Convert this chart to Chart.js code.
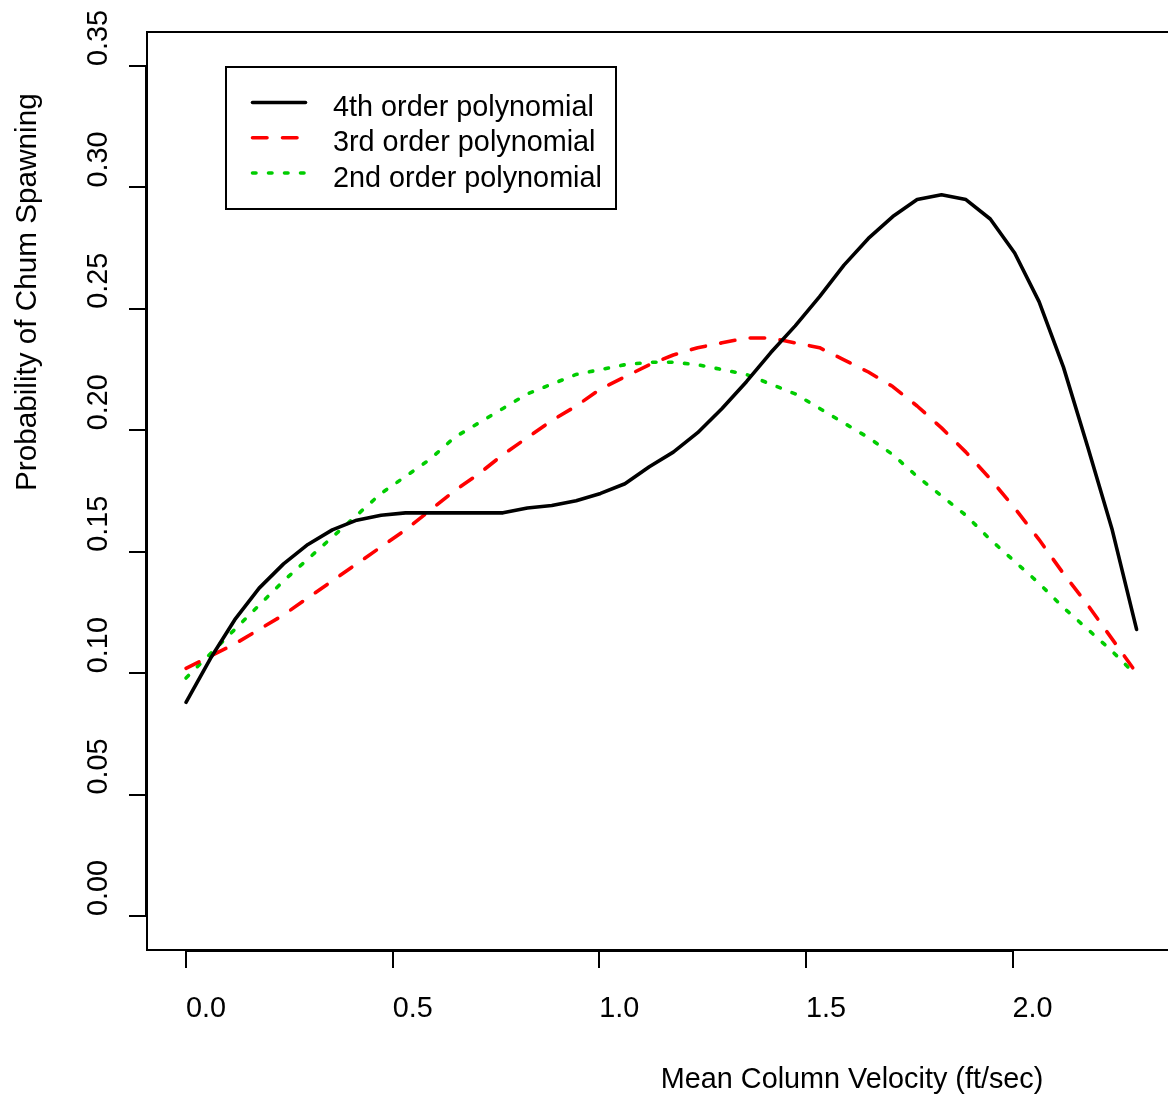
<!DOCTYPE html>
<html>
<head>
<meta charset="utf-8">
<title>Probability of Chum Spawning</title>
<script src="https://cdn.jsdelivr.net/npm/chart.js@4.4.1/dist/chart.umd.min.js"></script>
<style>
  html, body { margin: 0; padding: 0; background: #fff; }
  canvas { display: block; }
</style>
</head>
<body>
<canvas id="chum" width="1168" height="1099"></canvas>
<script>
// mean column velocity (ft/sec) where the fitted curves were evaluated
const velocity = [
  0.000, 0.059, 0.118, 0.177, 0.236, 0.295, 0.354, 0.413, 0.472, 0.531,
  0.590, 0.649, 0.708, 0.767, 0.826, 0.885, 0.944, 1.003, 1.062, 1.121,
  1.179, 1.238, 1.297, 1.356, 1.415, 1.474, 1.533, 1.592, 1.651, 1.710,
  1.769, 1.828, 1.887, 1.946, 2.005, 2.064, 2.123, 2.182, 2.241, 2.300
];

const poly4 = [
  0.088, 0.106, 0.122, 0.135, 0.145, 0.153, 0.159, 0.163, 0.165, 0.166,
  0.166, 0.166, 0.166, 0.166, 0.168, 0.169, 0.171, 0.174, 0.178, 0.185,
  0.191, 0.199, 0.209, 0.220, 0.232, 0.243, 0.255, 0.268, 0.279, 0.288,
  0.295, 0.297, 0.295, 0.287, 0.273, 0.253, 0.226, 0.193, 0.159, 0.118
];

const poly3 = [
  0.102, 0.107, 0.112, 0.118, 0.124, 0.131, 0.138, 0.145, 0.152, 0.159,
  0.167, 0.175, 0.182, 0.190, 0.197, 0.204, 0.210, 0.217, 0.222, 0.227,
  0.231, 0.234, 0.236, 0.238, 0.238, 0.236, 0.234, 0.229, 0.224, 0.218,
  0.210, 0.201, 0.191, 0.180, 0.168, 0.155, 0.141, 0.128, 0.114, 0.100
];

const poly2 = [
  0.098, 0.108, 0.118, 0.128, 0.138, 0.147, 0.156, 0.165, 0.174, 0.181,
  0.188, 0.197, 0.203, 0.209, 0.215, 0.219, 0.223, 0.225, 0.227, 0.228,
  0.228, 0.227, 0.225, 0.223, 0.219, 0.215, 0.209, 0.203, 0.197, 0.190,
  0.181, 0.173, 0.165, 0.155, 0.146, 0.137, 0.127, 0.118, 0.109, 0.099
];

const seriesNames = ['4th order polynomial', '3rd order polynomial', '2nd order polynomial'];
const xTicks = [0, 0.5, 1.0, 1.5, 2.0];
const yTicks = [0, 0.05, 0.10, 0.15, 0.20, 0.25, 0.30, 0.35];
const xTitle = 'Mean Column Velocity (ft/sec)';
const yTitle = 'Probability of Chum Spawning';

const FONT = "28.8px 'Liberation Sans', Arial, sans-serif";
const YTITLE_FONT = "29.7px 'Liberation Sans', Arial, sans-serif";

function pts(ys) {
  return velocity.map((v, i) => ({ x: v, y: ys[i] }));
}

function lineSet(label, ys, color, dash) {
  return {
    label: label,
    data: pts(ys),
    borderColor: color,
    borderWidth: 3.6,
    borderDash: dash,
    borderCapStyle: 'round',
    borderJoinStyle: 'round',
    pointRadius: 0,
    tension: 0,
    fill: false
  };
}

// base-graphics look: box, outside ticks, labels and a boxed legend
const baseAxes = {
  id: 'baseAxes',
  afterDraw(chart) {
    const ctx = chart.ctx;
    const a = chart.chartArea;
    const xs = chart.scales.x;
    const ys = chart.scales.y;
    ctx.save();
    ctx.strokeStyle = '#000';
    ctx.fillStyle = '#000';
    ctx.lineWidth = 2;
    ctx.setLineDash([]);

    // plot frame (right side runs off the canvas)
    ctx.beginPath();
    ctx.moveTo(chart.width + 5, a.top);
    ctx.lineTo(a.left, a.top);
    ctx.lineTo(a.left, a.bottom);
    ctx.lineTo(chart.width + 5, a.bottom);
    ctx.stroke();

    // x axis
    const x0 = xs.getPixelForValue(xTicks[0]);
    const x1 = xs.getPixelForValue(xTicks[xTicks.length - 1]);
    ctx.beginPath();
    ctx.moveTo(x0, a.bottom + 1);
    ctx.lineTo(x1, a.bottom + 1);
    xTicks.forEach(v => {
      const px = Math.round(xs.getPixelForValue(v));
      ctx.moveTo(px, a.bottom);
      ctx.lineTo(px, a.bottom + 18);
    });
    ctx.stroke();
    ctx.font = FONT;
    ctx.textAlign = 'left';
    ctx.textBaseline = 'alphabetic';
    xTicks.forEach(v => {
      ctx.fillText(v.toFixed(1), xs.getPixelForValue(v), 1017);
    });

    // y axis
    const y0 = ys.getPixelForValue(yTicks[0]);
    const y1 = ys.getPixelForValue(yTicks[yTicks.length - 1]);
    ctx.beginPath();
    ctx.moveTo(a.left - 1, y0);
    ctx.lineTo(a.left - 1, y1);
    yTicks.forEach(v => {
      const py = Math.round(ys.getPixelForValue(v));
      ctx.moveTo(a.left, py);
      ctx.lineTo(a.left - 18, py);
    });
    ctx.stroke();
    yTicks.forEach(v => {
      ctx.save();
      ctx.translate(106.5, ys.getPixelForValue(v));
      ctx.rotate(-Math.PI / 2);
      ctx.fillText(v.toFixed(2), 0, 0);
      ctx.restore();
    });

    // axis titles
    const xMid = (a.left + xs.getPixelForValue(2.392)) / 2;
    ctx.fillText(xTitle, xMid, 1087.5);
    ctx.save();
    ctx.font = YTITLE_FONT;
    ctx.translate(36, (a.top + a.bottom) / 2);
    ctx.rotate(-Math.PI / 2);
    ctx.fillText(yTitle, 0, 0);
    ctx.restore();

    // legend
    ctx.lineWidth = 2;
    ctx.strokeRect(226, 67, 390, 142);
    const rows = [102.5, 137.8, 173];
    chart.data.datasets.forEach((ds, i) => {
      ctx.save();
      ctx.strokeStyle = ds.borderColor;
      ctx.lineWidth = ds.borderWidth;
      ctx.lineCap = 'round';
      ctx.setLineDash(ds.borderDash);
      ctx.beginPath();
      ctx.moveTo(252.5, rows[i]);
      ctx.lineTo(305.5, rows[i]);
      ctx.stroke();
      ctx.restore();
      ctx.fillText(ds.label, 333, rows[i] + 13.5);
    });
    ctx.restore();
  }
};

new Chart(document.getElementById('chum'), {
  type: 'line',
  data: {
    datasets: [
      lineSet(seriesNames[0], poly4, '#000000', []),
      lineSet(seriesNames[1], poly3, '#FF0000', [14.5, 15.5]),
      lineSet(seriesNames[2], poly2, '#00CD00', [3.5, 12.5])
    ]
  },
  options: {
    responsive: false,
    devicePixelRatio: 1,
    animation: false,
    layout: { padding: { left: 147, top: 32, right: 0, bottom: 149 } },
    scales: {
      x: { type: 'linear', min: -0.0944, max: 2.376, display: false },
      y: { type: 'linear', min: -0.014, max: 0.364, display: false }
    },
    plugins: {
      legend: { display: false },
      tooltip: { enabled: false }
    }
  },
  plugins: [baseAxes]
});
</script>
</body>
</html>
